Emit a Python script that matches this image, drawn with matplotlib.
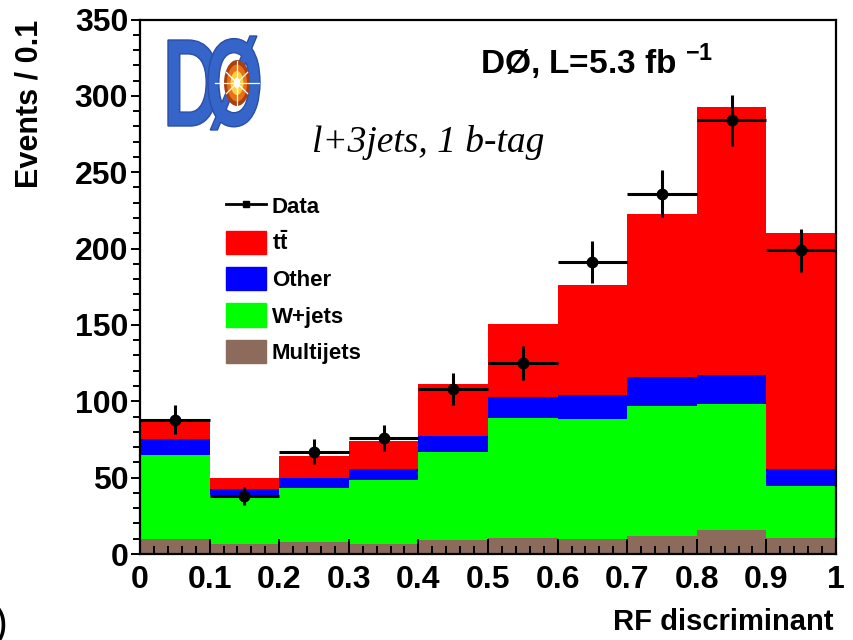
import numpy as np
import matplotlib
matplotlib.use('Agg')
import matplotlib.pyplot as plt
from matplotlib.patches import Patch, PathPatch, Ellipse
from matplotlib.lines import Line2D
from matplotlib.textpath import TextPath
from matplotlib.font_manager import FontProperties
from matplotlib.transforms import Affine2D

plt.rcParams['font.family'] = 'Liberation Sans'
plt.rcParams['font.weight'] = 'bold'
plt.rcParams['mathtext.fontset'] = 'custom'
plt.rcParams['mathtext.rm'] = 'Liberation Sans:bold'
plt.rcParams['mathtext.bf'] = 'Liberation Sans:bold'

# binning of the RF discriminant
bin_edges = [0.0, 0.1, 0.2, 0.3, 0.4, 0.5, 0.6, 0.7, 0.8, 0.9, 1.0]

# stacked predictions per bin (events / 0.1)
multijets = [10.0, 6.8, 7.8, 6.8, 9.2, 10.3, 9.6, 11.8, 15.9, 10.7]
wjets = [55.0, 32.0, 35.2, 41.6, 57.8, 78.7, 78.7, 85.2, 82.0, 33.6]
other = [10.0, 3.7, 7.0, 7.2, 10.0, 13.5, 16.1, 19.0, 19.6, 11.3]
ttbar = [13.7, 7.5, 14.3, 18.4, 34.0, 47.9, 71.6, 106.8, 175.5, 154.8]

# observed events
data = [88, 38, 67, 76, 108, 125, 191, 236, 284, 199]

W, H = 854, 640
fig = plt.figure(figsize=(W / 100, H / 100), dpi=100)
ax = fig.add_axes([140 / W, 1 - 554 / H, 696 / W, 534.5 / H])

edges = np.array(bin_edges)
left = edges[:-1]
width = np.diff(edges)
centers = left + width / 2

bottom = np.zeros(len(left))
for vals, col in [(multijets, '#8c6b5c'), (wjets, '#00ff00'),
                  (other, '#0000ff'), (ttbar, '#ff0000')]:
    ax.bar(left, vals, width=width, bottom=bottom, align='edge',
           color=col, linewidth=0, zorder=1)
    bottom += np.array(vals)

ax.errorbar(centers, data, xerr=width / 2, yerr=np.sqrt(data),
            fmt='o', color='black', markersize=7.5, elinewidth=2.2,
            capsize=0, zorder=3)

ax.set_xlim(0, 1)
ax.set_ylim(0, 350)
ax.set_xticks(np.arange(0, 1.01, 0.1))
ax.set_xticklabels(['0', '0.1', '0.2', '0.3', '0.4', '0.5',
                    '0.6', '0.7', '0.8', '0.9', '1'])
ax.set_xticks(np.arange(0, 1.001, 0.02), minor=True)
ax.set_yticks(np.arange(0, 351, 50))
ax.set_yticks(np.arange(0, 351, 10), minor=True)

ax.tick_params(axis='x', which='major', direction='in', length=11,
               width=1.4, labelsize=23, pad=8)
ax.tick_params(axis='x', which='minor', direction='in', length=5.8,
               width=1.4)
ax.tick_params(axis='y', which='major', direction='out', length=6.5,
               width=1.4, labelsize=23, pad=2)
ax.tick_params(axis='y', which='minor', direction='out', length=5,
               width=1.4)
for s in ax.spines.values():
    s.set_linewidth(1.6)
    s.set_zorder(5)

fig.text(30 / W, 1 - 20 / H, 'Events / 0.1', rotation=90, fontsize=22,
         ha='center', va='top')
fig.text(834 / W, 1 - 622 / H, 'RF discriminant', fontsize=21,
         ha='right', va='center')
fig.text(-6 / W, 1 - 645 / H, ')', fontsize=30, fontweight='normal',
         ha='left', va='bottom')

ax.text(480 / W, 1 - 74 / H, r'DØ, L=5.3 fb $^{\mathrm{-1}}$', fontsize=24,
        transform=fig.transFigure, ha='left', va='baseline')
ax.text(312 / W, 1 - 142 / H, 'l+3jets, 1 b-tag', fontsize=27,
        family='Liberation Serif', style='italic', fontweight='normal',
        transform=fig.transFigure, ha='left', va='center')

handles = [Line2D([], [], color='black', lw=2, marker='s', markersize=4),
           Patch(color='#ff0000'), Patch(color='#0000ff'),
           Patch(color='#00ff00'), Patch(color='#8c6b5c')]
labels = ['Data', r'$\mathbf{t\bar{t}}$', 'Other', 'W+jets', 'Multijets']
ax.legend(handles, labels, loc='upper left',
          bbox_to_anchor=(215 / W, 1 - 183 / H),
          bbox_transform=fig.transFigure, frameon=False, fontsize=16,
          handlelength=1.8, handleheight=1.25, labelspacing=0.55,
          handletextpad=0.25, borderpad=0)


# experiment logo drawn from glyph outlines
def glyph(txt, box, color):
    fp = FontProperties(family='Liberation Sans', weight='bold')
    tp = TextPath((0, 0), txt, size=100, prop=fp)
    ext = tp.get_extents()
    x0, y0, x1, y1 = box
    sx = (x1 - x0) / ext.width
    sy = (y1 - y0) / ext.height
    tr = Affine2D().translate(-ext.x0, -ext.y0).scale(sx, sy) \
        .translate(x0, H - y1)
    fig.add_artist(PathPatch(tp, transform=tr, facecolor=color,
                             edgecolor='#2a4ea8', lw=1.0, zorder=6))


glyph('D', (168, 40, 218, 126), '#3565c8')
glyph('Ø', (208, 36, 260, 130), '#3565c8')
cx, cy = 237, 83
for w_, h_, c in [(26, 46, '#a8400f'), (20, 37, '#e87018'),
                  (13, 24, '#ffd040'), (6, 11, 'white')]:
    fig.add_artist(Ellipse((cx, H - cy), w_, h_, facecolor=c,
                           edgecolor='none', zorder=7,
                           transform=Affine2D()))
for ang in np.arange(0, 180, 45):
    r = 22 if ang % 90 == 0 else 15
    dx, dy = r * np.cos(np.radians(ang)), r * np.sin(np.radians(ang))
    fig.add_artist(Line2D([cx - dx, cx + dx], [H - cy - dy, H - cy + dy],
                          color='white', lw=0.9, zorder=8,
                          transform=Affine2D()))

fig.savefig('out.png', dpi=100)
